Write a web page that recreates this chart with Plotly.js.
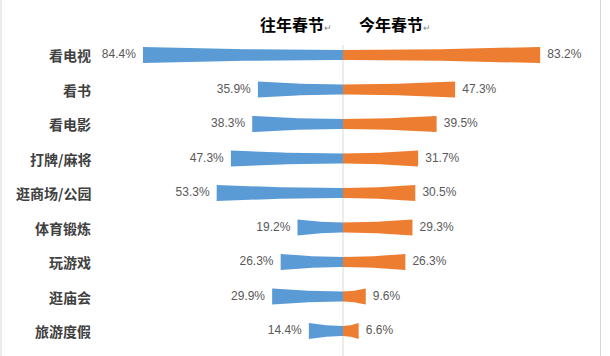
<!DOCTYPE html>
<html>
<head>
<meta charset="utf-8">
<script src="https://cdn.plot.ly/plotly-3.0.1.min.js"></script>
<style>html,body{margin:0;padding:0;background:#fff;}#chart{width:610px;height:356px;}</style>
</head>
<body>
<div id="chart"></div>
<script>
const categories = ['看电视','看书','看电影','打牌/麻将','逛商场/公园','体育锻炼','玩游戏','逛庙会','旅游度假'];
const pastValues = [84.4, 35.9, 38.3, 47.3, 53.3, 19.2, 26.3, 29.9, 14.4];
const nowValues  = [83.2, 47.3, 39.5, 31.7, 30.5, 29.3, 26.3, 9.6, 6.6];
const seriesNames = ['往年春节', '今年春节'];

const BLUE = '#5B9BD5', ORANGE = '#ED7D31';
const H0 = 0.145, H1 = 0.235, P = 2, N = 24;

function barPath(values, sign) {
  const xs = [], ys = [];
  values.forEach((v, i) => {
    for (let k = 0; k <= N; k++) {
      const t = k / N;
      xs.push(sign * v * t); ys.push(i - (H0 + (H1 - H0) * Math.pow(t, P)));
    }
    for (let k = N; k >= 0; k--) {
      const t = k / N;
      xs.push(sign * v * t); ys.push(i + (H0 + (H1 - H0) * Math.pow(t, P)));
    }
    xs.push(null); ys.push(null);
  });
  return {xs, ys};
}

const idx = categories.map((c, i) => i);
const left = barPath(pastValues, -1);
const right = barPath(nowValues, 1);
const PAD = 3;
const labelFont = {family: 'Liberation Sans, Arial, sans-serif', size: 12, color: '#595959'};

const traces = [
  {x: left.xs, y: left.ys, type: 'scatter', mode: 'lines', fill: 'toself', fillcolor: BLUE,
   line: {width: 0, color: BLUE}, name: seriesNames[0], hoverinfo: 'skip'},
  {x: right.xs, y: right.ys, type: 'scatter', mode: 'lines', fill: 'toself', fillcolor: ORANGE,
   line: {width: 0, color: ORANGE}, name: seriesNames[1], hoverinfo: 'skip'},
  {x: pastValues.map(v => -v - PAD), y: idx, type: 'scatter', mode: 'text',
   text: pastValues.map(v => v.toFixed(1) + '%'), textposition: 'middle left', textfont: labelFont, hoverinfo: 'skip'},
  {x: nowValues.map(v => v + PAD), y: idx, type: 'scatter', mode: 'text',
   text: nowValues.map(v => v.toFixed(1) + '%'), textposition: 'middle right', textfont: labelFont, hoverinfo: 'skip'}
];

const PXU = 2.37;       // pixels per percent
const CX = 343;         // pixel of center line
const ROW0 = 55, ROWH = 34.5;
const xr = [-CX / PXU, (610 - CX) / PXU];
const yr = [(356 - ROW0) / ROWH, -ROW0 / ROWH];

const annotations = categories.map((c, i) => ({
  x: (93 - CX) / PXU, y: i, xref: 'x', yref: 'y', text: c, showarrow: false, xanchor: 'right', yanchor: 'middle',
  font: {family: 'Noto Sans CJK SC, sans-serif', size: 14, color: '#404040', weight: 'bold'}
}));
const headFont = {family: 'Noto Sans CJK SC, sans-serif', size: 16, color: '#000', weight: 'bold'};
annotations.push({x: (334 - CX) / PXU, y: (24 - ROW0) / ROWH, xref: 'x', yref: 'y', xanchor: 'right', yanchor: 'middle',
  showarrow: false, font: headFont, text: seriesNames[0] + '<span style="font-size:9px;color:#888;font-weight:normal">↵</span>'});
annotations.push({x: (357 - CX) / PXU, y: (24 - ROW0) / ROWH, xref: 'x', yref: 'y', xanchor: 'left', yanchor: 'middle',
  showarrow: false, font: headFont, text: seriesNames[1] + '<span style="font-size:9px;color:#888;font-weight:normal">↵</span>'});

const layout = {
  width: 610, height: 356,
  margin: {l: 0, r: 0, t: 0, b: 0},
  paper_bgcolor: '#fff', plot_bgcolor: '#fff',
  showlegend: false, hovermode: false,
  xaxis: {range: xr, visible: false, fixedrange: true},
  yaxis: {range: yr, visible: false, fixedrange: true},
  shapes: [
    {type: 'line', xref: 'x', yref: 'y', x0: 0, x1: 0, y0: (45 - ROW0) / ROWH, y1: yr[0], line: {color: '#d9d9d9', width: 1}, layer: 'below'},
    {type: 'line', xref: 'x', yref: 'y', x0: (1 - CX) / PXU, x1: (1 - CX) / PXU, y0: yr[1], y1: yr[0], line: {color: '#d9d9d9', width: 1}},
    {type: 'line', xref: 'x', yref: 'y', x0: (600.5 - CX) / PXU, x1: (600.5 - CX) / PXU, y0: yr[1], y1: yr[0], line: {color: '#d9d9d9', width: 1}}
  ],
  annotations: annotations
};

Plotly.newPlot('chart', traces, layout, {displayModeBar: false, staticPlot: true});
</script>
</body>
</html>
